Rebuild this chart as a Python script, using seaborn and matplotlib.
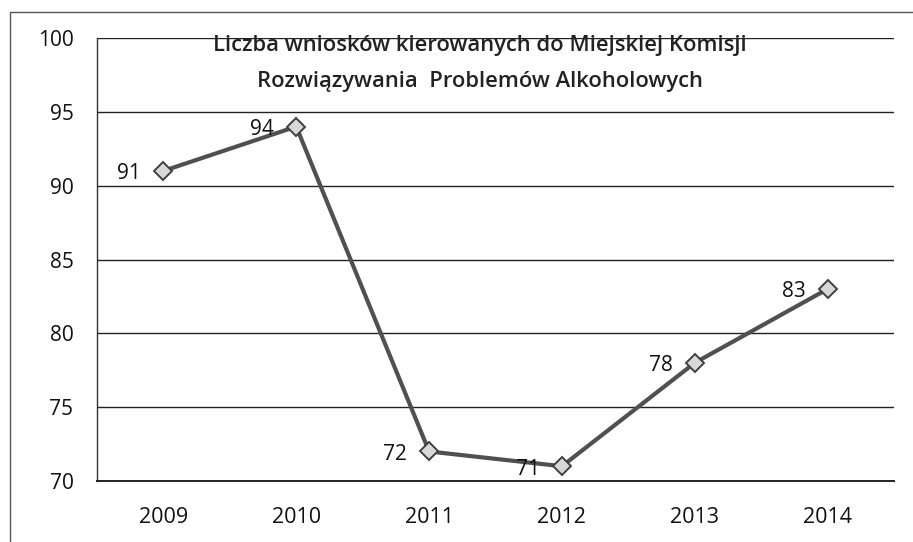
import matplotlib
matplotlib.use("Agg")
import matplotlib.pyplot as plt
import seaborn as sns
import pandas as pd
import numpy as np
from matplotlib.lines import Line2D

years = ["2009", "2010", "2011", "2012", "2013", "2014"]
values = [91, 94, 72, 71, 78, 83]
yticks = [70, 75, 80, 85, 90, 95, 100]
title_lines = ["Liczba wniosków kierowanych do Miejskiej Komisji",
               "Rozwiązywania  Problemów Alkoholowych"]

sns.set_theme(style="white")
plt.rcParams["font.family"] = ["Open Sans", "DejaVu Sans"]

df = pd.DataFrame({"rok": years, "liczba": values})

fig = plt.figure(figsize=(9.13, 5.42), dpi=100)
left, right, top, bottom = 97, 894, 38, 481
ax = fig.add_axes([left/913, 1 - bottom/542, (right-left)/913, (bottom-top)/542])

sns.lineplot(data=df, x="rok", y="liczba", ax=ax, color="#505050",
             linewidth=3.0, marker="D", markersize=9,
             markerfacecolor="#d8d8d8", markeredgecolor="#404040",
             markeredgewidth=1.4, sort=False)

ax.set_xlim(-0.5, len(years) - 0.5)
ax.set_ylim(70, 100)
ax.set_yticks(yticks)
ax.set_yticklabels([str(t) for t in yticks], fontsize=15, color="#111111")
ax.set_xticks(range(len(years)))
ax.set_xticklabels(years, fontsize=15.5, color="#111111")
ax.set_xticks(np.arange(-0.5, len(years)), minor=True)
ax.tick_params(axis="x", which="major", length=0, pad=19)
ax.tick_params(axis="x", which="minor", length=6, width=1, color="#222222", direction="out")
ax.tick_params(axis="y", which="major", length=4, width=1, color="#222222", pad=13)
ax.set_xlabel("")
ax.set_ylabel("")

for t in yticks[1:]:
    ax.axhline(t, color="#222222", linewidth=1.0, zorder=0)

for s in ["top", "right"]:
    ax.spines[s].set_visible(False)
ax.spines["left"].set_color("#333333")
ax.spines["left"].set_linewidth(1.0)
ax.spines["bottom"].set_color("#222222")
ax.spines["bottom"].set_linewidth(1.4)

for i, v in enumerate(values):
    ax.annotate(str(v), (i, v), xytext=(-16, -2), textcoords="offset points",
                ha="right", va="center", fontsize=15, color="#111111")

fig.text(480/913, 1 - 46/542, title_lines[0], ha="center", va="center",
         fontsize=15.8, fontweight="semibold", color="#222222")
fig.text(480/913, 1 - 81/542, title_lines[1], ha="center", va="center",
         fontsize=15.8, fontweight="semibold", color="#222222")

# chart area border (scanned Excel frame)
fig.add_artist(Line2D([10/913, 10/913], [0, 1 - 12/542], transform=fig.transFigure,
                      color="#555555", linewidth=1.0))
fig.add_artist(Line2D([10/913, 1], [1 - 12/542, 1 - 12/542], transform=fig.transFigure,
                      color="#555555", linewidth=1.0))

fig.savefig("out.png", dpi=100)
